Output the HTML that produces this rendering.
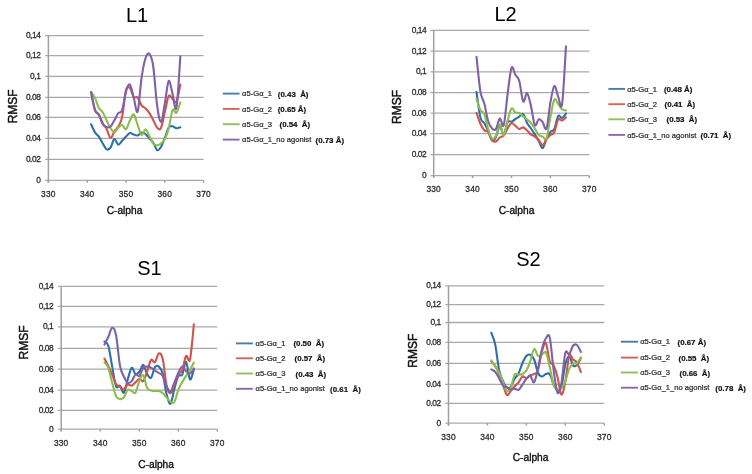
<!DOCTYPE html>
<html><head><meta charset="utf-8"><title>RMSF</title>
<style>
html,body{margin:0;padding:0;background:#fff;}
body{width:752px;height:474px;overflow:hidden;}
svg{display:block;filter:blur(0.3px);}
text{font-family:"Liberation Sans",sans-serif;}
.gl{stroke:#a9a9a9;stroke-width:1.3;}
.ax{stroke:#a0a0a0;stroke-width:1.5;}
.yl{font-size:8.4px;fill:#2b2b2b;text-anchor:end;letter-spacing:-0.45px;stroke:#2b2b2b;stroke-width:0.28px;}
.xl{font-size:8.4px;fill:#2b2b2b;text-anchor:middle;letter-spacing:0.2px;stroke:#2b2b2b;stroke-width:0.28px;}
.tt{font-size:20px;fill:#000;text-anchor:middle;}
.rm{font-size:12px;fill:#111;text-anchor:middle;stroke:#111;stroke-width:0.45px;}
.ca{font-size:10.2px;fill:#111;text-anchor:middle;stroke:#111;stroke-width:0.35px;}
.sr{fill:none;stroke-width:2.1;stroke-linejoin:round;stroke-linecap:round;}
.lg{stroke-width:1.9;}
.lt{font-size:7.6px;fill:#2b2b2b;stroke:#2b2b2b;stroke-width:0.22px;}
.lv{font-size:7.9px;font-weight:bold;fill:#111;stroke:#111;stroke-width:0.2px;}
</style></head>
<body>
<svg width="752" height="474" viewBox="0 0 752 474">
<rect width="752" height="474" fill="#fff"/>
<line x1="45.2" y1="180.40" x2="203.6" y2="180.40" class="gl"/>
<line x1="45.2" y1="159.40" x2="203.6" y2="159.40" class="gl"/>
<line x1="45.2" y1="138.40" x2="203.6" y2="138.40" class="gl"/>
<line x1="45.2" y1="117.30" x2="203.6" y2="117.30" class="gl"/>
<line x1="45.2" y1="97.30" x2="203.6" y2="97.30" class="gl"/>
<line x1="45.2" y1="76.30" x2="203.6" y2="76.30" class="gl"/>
<line x1="45.2" y1="55.60" x2="203.6" y2="55.60" class="gl"/>
<line x1="45.2" y1="35.70" x2="203.6" y2="35.70" class="gl"/>
<line x1="48.40" y1="35.70" x2="48.40" y2="182.80" class="ax"/>
<line x1="48.40" y1="180.40" x2="48.40" y2="182.80" class="ax"/>
<line x1="87.20" y1="180.40" x2="87.20" y2="182.80" class="ax"/>
<line x1="126.00" y1="180.40" x2="126.00" y2="182.80" class="ax"/>
<line x1="164.80" y1="180.40" x2="164.80" y2="182.80" class="ax"/>
<line x1="203.60" y1="180.40" x2="203.60" y2="182.80" class="ax"/>
<text x="40.4" y="182.80" class="yl">0</text>
<text x="40.4" y="161.80" class="yl">0.02</text>
<text x="40.4" y="140.80" class="yl">0.04</text>
<text x="40.4" y="119.70" class="yl">0.06</text>
<text x="40.4" y="99.70" class="yl">0.08</text>
<text x="40.4" y="78.70" class="yl">0,1</text>
<text x="40.4" y="58.00" class="yl">0,12</text>
<text x="40.4" y="38.10" class="yl">0,14</text>
<text x="48.40" y="196.60" class="xl">330</text>
<text x="87.20" y="196.60" class="xl">340</text>
<text x="126.00" y="196.60" class="xl">350</text>
<text x="164.80" y="196.60" class="xl">360</text>
<text x="203.60" y="196.60" class="xl">370</text>
<text x="137.1" y="21.8" class="tt">L1</text>
<text transform="translate(16.6 106.3) rotate(-90)" class="rm">RMSF</text>
<text x="124.5" y="213.9" class="ca">C-alpha</text>
<path d="M91.10 124.30 C91.75 125.65 93.69 130.35 94.98 132.40 C96.27 134.45 97.57 134.75 98.86 136.60 C100.15 138.45 101.45 141.38 102.74 143.50 C104.03 145.62 105.33 148.60 106.62 149.30 C107.91 150.00 109.21 149.42 110.50 147.70 C111.79 145.98 113.09 139.50 114.38 139.00 C115.67 138.50 116.97 144.40 118.26 144.70 C119.55 145.00 120.85 142.15 122.14 140.80 C123.43 139.45 124.73 137.90 126.02 136.60 C127.31 135.30 128.61 133.35 129.90 133.00 C131.19 132.65 132.49 134.10 133.78 134.50 C135.07 134.90 136.37 135.72 137.66 135.40 C138.95 135.08 140.25 132.83 141.54 132.60 C142.83 132.37 144.13 133.02 145.42 134.00 C146.71 134.98 148.01 137.08 149.30 138.50 C150.59 139.92 151.89 140.57 153.18 142.50 C154.47 144.43 155.77 149.35 157.06 150.10 C158.35 150.85 159.65 149.02 160.94 147.00 C162.23 144.98 163.53 141.25 164.82 138.00 C166.11 134.75 167.41 129.45 168.70 127.50 C169.99 125.55 171.29 126.17 172.58 126.30 C173.87 126.43 175.17 128.13 176.46 128.30 C177.75 128.47 179.69 127.47 180.34 127.30" stroke="#2c70a8" class="sr"/>
<path d="M91.10 92.10 C91.75 95.18 93.69 106.82 94.98 110.60 C96.27 114.38 97.57 112.70 98.86 114.80 C100.15 116.90 101.45 120.83 102.74 123.20 C104.03 125.57 105.33 126.53 106.62 129.00 C107.91 131.47 109.21 137.60 110.50 138.00 C111.79 138.40 113.09 133.30 114.38 131.40 C115.67 129.50 116.97 129.00 118.26 126.60 C119.55 124.20 120.85 123.10 122.14 117.00 C123.43 110.90 124.73 94.83 126.02 90.00 C127.31 85.17 128.61 86.83 129.90 88.00 C131.19 89.17 132.49 95.42 133.78 97.00 C135.07 98.58 136.37 96.12 137.66 97.50 C138.95 98.88 140.25 103.52 141.54 105.30 C142.83 107.08 144.13 106.95 145.42 108.20 C146.71 109.45 148.01 110.83 149.30 112.80 C150.59 114.77 151.89 117.55 153.18 120.00 C154.47 122.45 155.77 126.17 157.06 127.50 C158.35 128.83 159.65 130.58 160.94 128.00 C162.23 125.42 163.53 117.33 164.82 112.00 C166.11 106.67 167.41 98.18 168.70 96.00 C169.99 93.82 171.29 97.93 172.58 98.90 C173.87 99.87 175.17 104.18 176.46 101.80 C177.75 99.42 179.69 87.47 180.34 84.60" stroke="#d0534c" class="sr"/>
<path d="M91.10 92.10 C91.75 93.07 93.69 95.25 94.98 97.90 C96.27 100.55 97.57 105.62 98.86 108.00 C100.15 110.38 101.45 110.12 102.74 112.20 C104.03 114.28 105.33 117.87 106.62 120.50 C107.91 123.13 109.21 126.02 110.50 128.00 C111.79 129.98 113.09 132.45 114.38 132.40 C115.67 132.35 116.97 128.93 118.26 127.70 C119.55 126.47 120.85 124.75 122.14 125.00 C123.43 125.25 124.73 129.95 126.02 129.20 C127.31 128.45 128.61 122.95 129.90 120.50 C131.19 118.05 132.49 113.75 133.78 114.50 C135.07 115.25 136.37 121.58 137.66 125.00 C138.95 128.42 140.25 134.30 141.54 135.00 C142.83 135.70 144.13 129.03 145.42 129.20 C146.71 129.37 148.01 133.62 149.30 136.00 C150.59 138.38 151.89 141.93 153.18 143.50 C154.47 145.07 155.77 145.40 157.06 145.40 C158.35 145.40 159.65 144.53 160.94 143.50 C162.23 142.47 163.53 141.70 164.82 139.20 C166.11 136.70 167.41 133.37 168.70 128.50 C169.99 123.63 171.29 112.62 172.58 110.00 C173.87 107.38 175.17 114.07 176.46 112.80 C177.75 111.53 179.69 104.13 180.34 102.40" stroke="#8cbd4e" class="sr"/>
<path d="M91.10 92.10 C91.75 95.00 93.69 105.72 94.98 109.50 C96.27 113.28 97.57 112.35 98.86 114.80 C100.15 117.25 101.45 122.15 102.74 124.20 C104.03 126.25 105.33 126.72 106.62 127.10 C107.91 127.48 109.21 127.65 110.50 126.50 C111.79 125.35 113.09 122.42 114.38 120.20 C115.67 117.98 116.97 114.88 118.26 113.20 C119.55 111.52 120.85 113.70 122.14 110.10 C123.43 106.50 124.73 95.87 126.02 91.60 C127.31 87.33 128.61 83.43 129.90 84.50 C131.19 85.57 132.49 93.50 133.78 98.00 C135.07 102.50 136.37 114.83 137.66 111.50 C138.95 108.17 140.25 86.83 141.54 78.00 C142.83 69.17 144.13 62.53 145.42 58.50 C146.71 54.47 148.01 52.55 149.30 53.80 C150.59 55.05 151.89 57.47 153.18 66.00 C154.47 74.53 155.77 95.67 157.06 105.00 C158.35 114.33 159.65 122.23 160.94 122.00 C162.23 121.77 163.53 110.43 164.82 103.60 C166.11 96.77 167.41 82.60 168.70 81.00 C169.99 79.40 171.29 89.55 172.58 94.00 C173.87 98.45 175.17 113.98 176.46 107.70 C177.75 101.42 179.69 64.87 180.34 56.30" stroke="#7f61a6" class="sr"/>
<line x1="222.8" y1="93.6" x2="239.6" y2="93.6" stroke="#4a7cab" class="lg"/>
<text x="242.1" y="96.2" class="lt">α5-Gα_1</text>
<text x="277.8" y="96.6" class="lv">(0.43&#160;&#160;Å)</text>
<line x1="222.8" y1="108.9" x2="239.6" y2="108.9" stroke="#d2625d" class="lg"/>
<text x="242.1" y="111.5" class="lt">α5-Gα_2</text>
<text x="277.7" y="111.9" class="lv">(0.65 Å)</text>
<line x1="222.8" y1="124.2" x2="239.6" y2="124.2" stroke="#95bf5d" class="lg"/>
<text x="242.1" y="126.8" class="lt">α5-Gα_3</text>
<text x="279.5" y="127.2" class="lv">(0.54&#160;&#160;Å)</text>
<line x1="222.8" y1="139.6" x2="239.6" y2="139.6" stroke="#8769ad" class="lg"/>
<text x="242.1" y="142.2" class="lt">α5-Gα_1_no agonist</text>
<text x="315.5" y="142.6" class="lv">(0.73 Å)</text>
<line x1="430.5" y1="175.60" x2="589.3" y2="175.60" class="gl"/>
<line x1="430.5" y1="154.70" x2="589.3" y2="154.70" class="gl"/>
<line x1="430.5" y1="133.70" x2="589.3" y2="133.70" class="gl"/>
<line x1="430.5" y1="113.10" x2="589.3" y2="113.10" class="gl"/>
<line x1="430.5" y1="92.60" x2="589.3" y2="92.60" class="gl"/>
<line x1="430.5" y1="71.80" x2="589.3" y2="71.80" class="gl"/>
<line x1="430.5" y1="51.10" x2="589.3" y2="51.10" class="gl"/>
<line x1="430.5" y1="30.30" x2="589.3" y2="30.30" class="gl"/>
<line x1="433.70" y1="30.30" x2="433.70" y2="178.00" class="ax"/>
<line x1="433.70" y1="175.60" x2="433.70" y2="178.00" class="ax"/>
<line x1="472.60" y1="175.60" x2="472.60" y2="178.00" class="ax"/>
<line x1="511.50" y1="175.60" x2="511.50" y2="178.00" class="ax"/>
<line x1="550.40" y1="175.60" x2="550.40" y2="178.00" class="ax"/>
<line x1="589.30" y1="175.60" x2="589.30" y2="178.00" class="ax"/>
<text x="426.2" y="178.00" class="yl">0</text>
<text x="426.2" y="157.10" class="yl">0.02</text>
<text x="426.2" y="136.10" class="yl">0.04</text>
<text x="426.2" y="115.50" class="yl">0.06</text>
<text x="426.2" y="95.00" class="yl">0.08</text>
<text x="426.2" y="74.20" class="yl">0,1</text>
<text x="426.2" y="53.50" class="yl">0,12</text>
<text x="426.2" y="32.70" class="yl">0,14</text>
<text x="433.70" y="192.00" class="xl">330</text>
<text x="472.60" y="192.00" class="xl">340</text>
<text x="511.50" y="192.00" class="xl">350</text>
<text x="550.40" y="192.00" class="xl">360</text>
<text x="589.30" y="192.00" class="xl">370</text>
<text x="505.5" y="21.1" class="tt">L2</text>
<text transform="translate(400.6 107.0) rotate(-90)" class="rm">RMSF</text>
<text x="516.5" y="213.5" class="ca">C-alpha</text>
<path d="M476.50 92.00 C477.15 96.25 479.09 112.33 480.39 117.50 C481.69 122.67 482.98 120.75 484.28 123.00 C485.58 125.25 486.87 128.08 488.17 131.00 C489.47 133.92 490.76 139.50 492.06 140.50 C493.36 141.50 494.65 139.42 495.95 137.00 C497.25 134.58 498.54 126.33 499.84 126.00 C501.14 125.67 502.43 135.67 503.73 135.00 C505.03 134.33 506.32 124.22 507.62 122.00 C508.92 119.78 510.21 122.20 511.51 121.70 C512.81 121.20 514.10 119.85 515.40 119.00 C516.70 118.15 517.99 117.43 519.29 116.60 C520.59 115.77 521.88 112.93 523.18 114.00 C524.48 115.07 525.77 120.58 527.07 123.00 C528.37 125.42 529.66 126.60 530.96 128.50 C532.26 130.40 533.55 132.32 534.85 134.40 C536.15 136.48 537.44 138.70 538.74 141.00 C540.04 143.30 541.33 148.58 542.63 148.20 C543.93 147.82 545.22 141.40 546.52 138.70 C547.82 136.00 549.11 133.62 550.41 132.00 C551.71 130.38 553.00 131.67 554.30 129.00 C555.60 126.33 556.89 117.83 558.19 116.00 C559.49 114.17 560.78 118.42 562.08 118.00 C563.38 117.58 565.32 114.25 565.97 113.50" stroke="#2c70a8" class="sr"/>
<path d="M476.50 113.00 C477.15 114.78 479.09 120.82 480.39 123.70 C481.69 126.58 482.98 128.92 484.28 130.30 C485.58 131.68 486.87 130.33 488.17 132.00 C489.47 133.67 490.76 138.72 492.06 140.30 C493.36 141.88 494.65 141.97 495.95 141.50 C497.25 141.03 498.54 138.50 499.84 137.50 C501.14 136.50 502.43 137.00 503.73 135.50 C505.03 134.00 506.32 130.58 507.62 128.50 C508.92 126.42 510.21 123.45 511.51 123.00 C512.81 122.55 514.10 124.80 515.40 125.80 C516.70 126.80 517.99 128.73 519.29 129.00 C520.59 129.27 521.88 127.15 523.18 127.40 C524.48 127.65 525.77 129.33 527.07 130.50 C528.37 131.67 529.66 133.37 530.96 134.40 C532.26 135.43 533.55 135.77 534.85 136.70 C536.15 137.63 537.44 138.55 538.74 140.00 C540.04 141.45 541.33 145.53 542.63 145.40 C543.93 145.27 545.22 140.93 546.52 139.20 C547.82 137.47 549.11 136.20 550.41 135.00 C551.71 133.80 553.00 134.58 554.30 132.00 C555.60 129.42 556.89 121.40 558.19 119.50 C559.49 117.60 560.78 120.95 562.08 120.60 C563.38 120.25 565.32 117.93 565.97 117.40" stroke="#d0534c" class="sr"/>
<path d="M476.50 98.90 C477.15 100.75 479.09 107.48 480.39 110.00 C481.69 112.52 482.98 110.83 484.28 114.00 C485.58 117.17 486.87 124.92 488.17 129.00 C489.47 133.08 490.76 137.43 492.06 138.50 C493.36 139.57 494.65 137.75 495.95 135.40 C497.25 133.05 498.54 124.38 499.84 124.40 C501.14 124.42 502.43 136.15 503.73 135.50 C505.03 134.85 506.32 125.00 507.62 120.50 C508.92 116.00 510.21 109.83 511.51 108.50 C512.81 107.17 514.10 111.75 515.40 112.50 C516.70 113.25 517.99 112.33 519.29 113.00 C520.59 113.67 521.88 115.42 523.18 116.50 C524.48 117.58 525.77 118.42 527.07 119.50 C528.37 120.58 529.66 121.48 530.96 123.00 C532.26 124.52 533.55 126.60 534.85 128.60 C536.15 130.60 537.44 133.68 538.74 135.00 C540.04 136.32 541.33 135.97 542.63 136.50 C543.93 137.03 545.22 141.45 546.52 138.20 C547.82 134.95 549.11 123.45 550.41 117.00 C551.71 110.55 553.00 101.65 554.30 99.50 C555.60 97.35 556.89 102.45 558.19 104.10 C559.49 105.75 560.78 108.33 562.08 109.40 C563.38 110.47 565.32 110.32 565.97 110.50" stroke="#8cbd4e" class="sr"/>
<path d="M476.50 56.80 C477.15 62.57 479.09 83.60 480.39 91.40 C481.69 99.20 482.98 98.67 484.28 103.60 C485.58 108.53 486.87 116.85 488.17 121.00 C489.47 125.15 490.76 127.17 492.06 128.50 C493.36 129.83 494.65 130.67 495.95 129.00 C497.25 127.33 498.54 119.12 499.84 118.50 C501.14 117.88 502.43 129.38 503.73 125.30 C505.03 121.22 506.32 103.58 507.62 94.00 C508.92 84.42 510.21 71.00 511.51 67.80 C512.81 64.60 514.10 72.60 515.40 74.80 C516.70 77.00 517.99 76.55 519.29 81.00 C520.59 85.45 521.88 99.48 523.18 101.50 C524.48 103.52 525.77 92.37 527.07 93.10 C528.37 93.83 529.66 100.55 530.96 105.90 C532.26 111.25 533.55 122.98 534.85 125.20 C536.15 127.42 537.44 119.72 538.74 119.20 C540.04 118.68 541.33 120.55 542.63 122.10 C543.93 123.65 545.22 131.78 546.52 128.50 C547.82 125.22 549.11 109.48 550.41 102.40 C551.71 95.32 553.00 86.97 554.30 86.00 C555.60 85.03 556.89 93.58 558.19 96.60 C559.49 99.62 560.78 112.47 562.08 104.10 C563.38 95.73 565.32 56.02 565.97 46.40" stroke="#7f61a6" class="sr"/>
<line x1="608.4" y1="88.9" x2="625.1" y2="88.9" stroke="#4a7cab" class="lg"/>
<text x="627.2" y="91.5" class="lt">α5-Gα_1</text>
<text x="663.9" y="91.9" class="lv">(0.48 Å)</text>
<line x1="608.4" y1="104.2" x2="625.1" y2="104.2" stroke="#d2625d" class="lg"/>
<text x="627.2" y="106.8" class="lt">α5-Gα_2</text>
<text x="664.5" y="107.2" class="lv">(0.41&#160;&#160;Å)</text>
<line x1="608.4" y1="119.3" x2="625.1" y2="119.3" stroke="#95bf5d" class="lg"/>
<text x="627.2" y="121.9" class="lt">α5-Gα_3</text>
<text x="666.5" y="122.3" class="lv">(0.53&#160;&#160;Å)</text>
<line x1="608.4" y1="134.9" x2="625.1" y2="134.9" stroke="#8769ad" class="lg"/>
<text x="627.2" y="137.5" class="lt">α5-Gα_1_no agonist</text>
<text x="700.5" y="137.9" class="lv">(0.71&#160;&#160;Å)</text>
<line x1="58.0" y1="429.20" x2="217.3" y2="429.20" class="gl"/>
<line x1="58.0" y1="410.40" x2="217.3" y2="410.40" class="gl"/>
<line x1="58.0" y1="390.20" x2="217.3" y2="390.20" class="gl"/>
<line x1="58.0" y1="369.20" x2="217.3" y2="369.20" class="gl"/>
<line x1="58.0" y1="348.30" x2="217.3" y2="348.30" class="gl"/>
<line x1="58.0" y1="326.80" x2="217.3" y2="326.80" class="gl"/>
<line x1="58.0" y1="306.30" x2="217.3" y2="306.30" class="gl"/>
<line x1="58.0" y1="286.40" x2="217.3" y2="286.40" class="gl"/>
<line x1="61.20" y1="286.40" x2="61.20" y2="431.60" class="ax"/>
<line x1="61.20" y1="429.20" x2="61.20" y2="431.60" class="ax"/>
<line x1="100.23" y1="429.20" x2="100.23" y2="431.60" class="ax"/>
<line x1="139.25" y1="429.20" x2="139.25" y2="431.60" class="ax"/>
<line x1="178.28" y1="429.20" x2="178.28" y2="431.60" class="ax"/>
<line x1="217.30" y1="429.20" x2="217.30" y2="431.60" class="ax"/>
<text x="53.2" y="431.60" class="yl">0</text>
<text x="53.2" y="412.80" class="yl">0.02</text>
<text x="53.2" y="392.60" class="yl">0.04</text>
<text x="53.2" y="371.60" class="yl">0.06</text>
<text x="53.2" y="350.70" class="yl">0.08</text>
<text x="53.2" y="329.20" class="yl">0,1</text>
<text x="53.2" y="308.70" class="yl">0,12</text>
<text x="53.2" y="288.80" class="yl">0,14</text>
<text x="61.20" y="446.00" class="xl">330</text>
<text x="100.23" y="446.00" class="xl">340</text>
<text x="139.25" y="446.00" class="xl">350</text>
<text x="178.28" y="446.00" class="xl">360</text>
<text x="217.30" y="446.00" class="xl">370</text>
<text x="149.4" y="274.5" class="tt">S1</text>
<text transform="translate(28.4 342.5) rotate(-90)" class="rm">RMSF</text>
<text x="156.1" y="467.8" class="ca">C-alpha</text>
<path d="M104.40 341.50 C105.05 342.20 106.99 341.52 108.29 345.70 C109.59 349.88 110.88 359.83 112.18 366.60 C113.48 373.37 114.77 383.12 116.07 386.30 C117.37 389.48 118.66 384.63 119.96 385.70 C121.26 386.77 122.55 393.75 123.85 392.70 C125.15 391.65 126.44 383.55 127.74 379.40 C129.04 375.25 130.33 368.68 131.63 367.80 C132.93 366.92 134.22 373.43 135.52 374.10 C136.82 374.77 138.11 373.33 139.41 371.80 C140.71 370.27 142.00 364.52 143.30 364.90 C144.60 365.28 145.89 371.98 147.19 374.10 C148.49 376.22 149.78 378.75 151.08 377.60 C152.38 376.45 153.67 369.03 154.97 367.20 C156.27 365.37 157.56 365.53 158.86 366.60 C160.16 367.67 161.45 368.95 162.75 373.60 C164.05 378.25 165.34 389.48 166.64 394.50 C167.94 399.52 169.23 404.68 170.53 403.70 C171.83 402.72 173.12 393.23 174.42 388.60 C175.72 383.97 177.01 378.22 178.31 375.90 C179.61 373.58 180.90 377.02 182.20 374.70 C183.50 372.38 184.79 361.22 186.09 362.00 C187.39 362.78 188.68 378.15 189.98 379.40 C191.28 380.65 193.22 371.15 193.87 369.50" stroke="#2c70a8" class="sr"/>
<path d="M104.40 358.50 C105.05 359.75 106.99 363.30 108.29 366.00 C109.59 368.70 110.88 371.70 112.18 374.70 C113.48 377.70 114.77 381.97 116.07 384.00 C117.37 386.03 118.66 386.03 119.96 386.90 C121.26 387.77 122.55 389.58 123.85 389.20 C125.15 388.82 126.44 385.18 127.74 384.60 C129.04 384.02 130.33 386.08 131.63 385.70 C132.93 385.32 134.22 383.45 135.52 382.30 C136.82 381.15 138.11 379.00 139.41 378.80 C140.71 378.60 142.00 382.37 143.30 381.10 C144.60 379.83 145.89 374.72 147.19 371.20 C148.49 367.68 149.78 361.50 151.08 360.00 C152.38 358.50 153.67 363.28 154.97 362.20 C156.27 361.12 157.56 354.03 158.86 353.50 C160.16 352.97 161.45 353.53 162.75 359.00 C164.05 364.47 165.34 380.58 166.64 386.30 C167.94 392.02 169.23 393.48 170.53 393.30 C171.83 393.12 173.12 388.30 174.42 385.20 C175.72 382.10 177.01 377.22 178.31 374.70 C179.61 372.18 180.90 373.22 182.20 370.10 C183.50 366.98 184.79 357.75 186.09 356.00 C187.39 354.25 188.68 364.88 189.98 359.60 C191.28 354.32 193.22 330.18 193.87 324.30" stroke="#d0534c" class="sr"/>
<path d="M104.40 362.30 C105.05 363.22 106.99 364.38 108.29 367.80 C109.59 371.22 110.88 378.07 112.18 382.80 C113.48 387.53 114.77 393.48 116.07 396.20 C117.37 398.92 118.66 398.90 119.96 399.10 C121.26 399.30 122.55 398.95 123.85 397.40 C125.15 395.85 126.44 390.87 127.74 389.80 C129.04 388.73 130.33 390.52 131.63 391.00 C132.93 391.48 134.22 394.45 135.52 392.70 C136.82 390.95 138.11 383.40 139.41 380.50 C140.71 377.60 142.00 374.03 143.30 375.30 C144.60 376.57 145.89 385.58 147.19 388.10 C148.49 390.62 149.78 389.92 151.08 390.40 C152.38 390.88 153.67 390.90 154.97 391.00 C156.27 391.10 157.56 390.65 158.86 391.00 C160.16 391.35 161.45 392.03 162.75 393.10 C164.05 394.17 165.34 395.98 166.64 397.40 C167.94 398.82 169.23 400.83 170.53 401.60 C171.83 402.37 173.12 403.97 174.42 402.00 C175.72 400.03 177.01 393.08 178.31 389.80 C179.61 386.52 180.90 384.62 182.20 382.30 C183.50 379.98 184.79 377.93 186.09 375.90 C187.39 373.87 188.68 372.33 189.98 370.10 C191.28 367.87 193.22 363.77 193.87 362.50" stroke="#8cbd4e" class="sr"/>
<path d="M104.40 344.60 C105.05 343.33 106.99 339.80 108.29 337.00 C109.59 334.20 110.88 328.08 112.18 327.80 C113.48 327.52 114.77 328.98 116.07 335.30 C117.37 341.62 118.66 358.83 119.96 365.70 C121.26 372.57 122.55 373.65 123.85 376.50 C125.15 379.35 126.44 382.03 127.74 382.80 C129.04 383.57 130.33 382.48 131.63 381.10 C132.93 379.72 134.22 375.37 135.52 374.50 C136.82 373.63 138.11 377.02 139.41 375.90 C140.71 374.78 142.00 369.35 143.30 367.80 C144.60 366.25 145.89 366.60 147.19 366.60 C148.49 366.60 149.78 367.12 151.08 367.80 C152.38 368.48 153.67 369.83 154.97 370.70 C156.27 371.57 157.56 372.13 158.86 373.00 C160.16 373.87 161.45 373.68 162.75 375.90 C164.05 378.12 165.34 383.68 166.64 386.30 C167.94 388.92 169.23 392.27 170.53 391.60 C171.83 390.93 173.12 385.40 174.42 382.30 C175.72 379.20 177.01 375.62 178.31 373.00 C179.61 370.38 180.90 366.90 182.20 366.60 C183.50 366.30 184.79 370.03 186.09 371.20 C187.39 372.37 188.68 374.08 189.98 373.60 C191.28 373.12 193.22 369.18 193.87 368.30" stroke="#7f61a6" class="sr"/>
<line x1="236.0" y1="343.4" x2="252.9" y2="343.4" stroke="#4a7cab" class="lg"/>
<text x="255.5" y="346.0" class="lt">α5-Gα_1</text>
<text x="293.4" y="346.4" class="lv">(0.50&#160;&#160;Å)</text>
<line x1="236.0" y1="358.3" x2="252.9" y2="358.3" stroke="#d2625d" class="lg"/>
<text x="255.5" y="360.9" class="lt">α5-Gα_2</text>
<text x="294.5" y="361.3" class="lv">(0.57&#160;&#160;Å)</text>
<line x1="236.0" y1="373.5" x2="252.9" y2="373.5" stroke="#95bf5d" class="lg"/>
<text x="255.5" y="376.1" class="lt">α5-Gα_3</text>
<text x="295.5" y="376.5" class="lv">(0.43&#160;&#160;Å)</text>
<line x1="236.0" y1="388.8" x2="252.9" y2="388.8" stroke="#8769ad" class="lg"/>
<text x="255.5" y="391.4" class="lt">α5-Gα_1_no agonist</text>
<text x="330.1" y="391.8" class="lv">(0.61&#160;&#160;Å)</text>
<line x1="445.3" y1="423.20" x2="604.3" y2="423.20" class="gl"/>
<line x1="445.3" y1="403.30" x2="604.3" y2="403.30" class="gl"/>
<line x1="445.3" y1="384.40" x2="604.3" y2="384.40" class="gl"/>
<line x1="445.3" y1="363.40" x2="604.3" y2="363.40" class="gl"/>
<line x1="445.3" y1="342.30" x2="604.3" y2="342.30" class="gl"/>
<line x1="445.3" y1="322.50" x2="604.3" y2="322.50" class="gl"/>
<line x1="445.3" y1="304.70" x2="604.3" y2="304.70" class="gl"/>
<line x1="445.3" y1="285.90" x2="604.3" y2="285.90" class="gl"/>
<line x1="448.50" y1="285.90" x2="448.50" y2="425.60" class="ax"/>
<line x1="448.50" y1="423.20" x2="448.50" y2="425.60" class="ax"/>
<line x1="487.45" y1="423.20" x2="487.45" y2="425.60" class="ax"/>
<line x1="526.40" y1="423.20" x2="526.40" y2="425.60" class="ax"/>
<line x1="565.35" y1="423.20" x2="565.35" y2="425.60" class="ax"/>
<line x1="604.30" y1="423.20" x2="604.30" y2="425.60" class="ax"/>
<text x="440.8" y="425.60" class="yl">0</text>
<text x="440.8" y="405.70" class="yl">0.02</text>
<text x="440.8" y="386.80" class="yl">0.04</text>
<text x="440.8" y="365.80" class="yl">0.06</text>
<text x="440.8" y="344.70" class="yl">0.08</text>
<text x="440.8" y="324.90" class="yl">0,1</text>
<text x="440.8" y="307.10" class="yl">0,12</text>
<text x="440.8" y="288.30" class="yl">0,14</text>
<text x="448.50" y="440.00" class="xl">330</text>
<text x="487.45" y="440.00" class="xl">340</text>
<text x="526.40" y="440.00" class="xl">350</text>
<text x="565.35" y="440.00" class="xl">360</text>
<text x="604.30" y="440.00" class="xl">370</text>
<text x="528.5" y="266.2" class="tt">S2</text>
<text transform="translate(416.6 350.7) rotate(-90)" class="rm">RMSF</text>
<text x="530.6" y="461.0" class="ca">C-alpha</text>
<path d="M491.30 332.80 C491.95 334.73 493.90 338.20 495.19 344.40 C496.49 350.60 497.79 363.88 499.09 370.00 C500.39 376.12 501.69 378.18 502.99 381.10 C504.28 384.02 505.58 386.53 506.88 387.50 C508.18 388.47 509.48 388.35 510.78 386.90 C512.07 385.45 513.37 381.03 514.67 378.80 C515.97 376.57 517.27 376.13 518.57 373.50 C519.86 370.87 521.16 365.92 522.46 363.00 C523.76 360.08 525.06 357.37 526.36 356.00 C527.65 354.63 528.95 354.22 530.25 354.80 C531.55 355.38 532.85 356.47 534.14 359.50 C535.44 362.53 536.74 370.17 538.04 373.00 C539.34 375.83 540.64 376.32 541.94 376.50 C543.23 376.68 544.53 374.50 545.83 374.10 C547.13 373.70 548.43 372.35 549.73 374.10 C551.02 375.85 552.32 381.83 553.62 384.60 C554.92 387.37 556.22 390.32 557.51 390.70 C558.81 391.08 560.11 391.30 561.41 386.90 C562.71 382.50 564.01 369.42 565.31 364.30 C566.60 359.18 567.90 356.00 569.20 356.20 C570.50 356.40 571.80 364.03 573.10 365.50 C574.39 366.97 575.69 366.25 576.99 365.00 C578.29 363.75 580.24 359.17 580.88 358.00" stroke="#2c70a8" class="sr"/>
<path d="M491.30 361.50 C491.95 362.25 493.90 363.98 495.19 366.00 C496.49 368.02 497.79 370.50 499.09 373.60 C500.39 376.70 501.69 381.03 502.99 384.60 C504.28 388.17 505.58 393.93 506.88 395.00 C508.18 396.07 509.48 392.45 510.78 391.00 C512.07 389.55 513.37 387.75 514.67 386.30 C515.97 384.85 517.27 383.93 518.57 382.30 C519.86 380.67 521.16 377.18 522.46 376.50 C523.76 375.82 525.06 378.40 526.36 378.20 C527.65 378.00 528.95 375.98 530.25 375.30 C531.55 374.62 532.85 374.98 534.14 374.10 C535.44 373.22 536.74 373.80 538.04 370.00 C539.34 366.20 540.64 355.77 541.94 351.30 C543.23 346.83 544.53 341.55 545.83 343.20 C547.13 344.85 548.43 357.48 549.73 361.20 C551.02 364.92 552.32 362.87 553.62 365.50 C554.92 368.13 556.22 372.17 557.51 377.00 C558.81 381.83 560.11 393.72 561.41 394.50 C562.71 395.28 564.01 388.12 565.31 381.70 C566.60 375.28 567.90 359.68 569.20 356.00 C570.50 352.32 571.80 358.52 573.10 359.60 C574.39 360.68 575.69 360.43 576.99 362.50 C578.29 364.57 580.24 370.42 580.88 372.00" stroke="#d0534c" class="sr"/>
<path d="M491.30 360.30 C491.95 361.33 493.90 364.48 495.19 366.50 C496.49 368.52 497.79 369.77 499.09 372.40 C500.39 375.03 501.69 379.20 502.99 382.30 C504.28 385.40 505.58 390.13 506.88 391.00 C508.18 391.87 509.48 390.22 510.78 387.50 C512.07 384.78 513.37 376.83 514.67 374.70 C515.97 372.57 517.27 374.82 518.57 374.70 C519.86 374.58 521.16 374.70 522.46 374.00 C523.76 373.30 525.06 372.62 526.36 370.50 C527.65 368.38 528.95 364.88 530.25 361.30 C531.55 357.72 532.85 349.88 534.14 349.00 C535.44 348.12 536.74 355.03 538.04 356.00 C539.34 356.97 540.64 355.38 541.94 354.80 C543.23 354.22 544.53 350.55 545.83 352.50 C547.13 354.45 548.43 361.05 549.73 366.50 C551.02 371.95 552.32 381.42 553.62 385.20 C554.92 388.98 556.22 388.72 557.51 389.20 C558.81 389.68 560.11 389.45 561.41 388.10 C562.71 386.75 564.01 384.30 565.31 381.10 C566.60 377.90 567.90 371.82 569.20 368.90 C570.50 365.98 571.80 364.53 573.10 363.60 C574.39 362.67 575.69 364.33 576.99 363.30 C578.29 362.27 580.24 358.38 580.88 357.40" stroke="#8cbd4e" class="sr"/>
<path d="M491.30 369.40 C491.95 369.80 493.90 370.33 495.19 371.80 C496.49 373.27 497.79 375.88 499.09 378.20 C500.39 380.52 501.69 384.15 502.99 385.70 C504.28 387.25 505.58 386.85 506.88 387.50 C508.18 388.15 509.48 389.42 510.78 389.60 C512.07 389.78 513.37 388.57 514.67 388.60 C515.97 388.63 517.27 390.47 518.57 389.80 C519.86 389.13 521.16 386.43 522.46 384.60 C523.76 382.77 525.06 380.28 526.36 378.80 C527.65 377.32 528.95 375.12 530.25 375.70 C531.55 376.28 532.85 383.53 534.14 382.30 C535.44 381.07 536.74 373.85 538.04 368.30 C539.34 362.75 540.64 353.97 541.94 349.00 C543.23 344.03 544.53 340.42 545.83 338.50 C547.13 336.58 548.43 332.25 549.73 337.50 C551.02 342.75 552.32 360.80 553.62 370.00 C554.92 379.20 556.22 390.47 557.51 392.70 C558.81 394.93 560.11 390.02 561.41 383.40 C562.71 376.78 564.01 357.87 565.31 353.00 C566.60 348.13 567.90 355.45 569.20 354.20 C570.50 352.95 571.80 347.03 573.10 345.50 C574.39 343.97 575.69 343.93 576.99 345.00 C578.29 346.07 580.24 350.75 580.88 351.90" stroke="#7f61a6" class="sr"/>
<line x1="620.9" y1="341.7" x2="638.1" y2="341.7" stroke="#4a7cab" class="lg"/>
<text x="640.2" y="344.3" class="lt">α5-Gα_1</text>
<text x="677.5" y="344.7" class="lv">(0.67 Å)</text>
<line x1="620.9" y1="357.6" x2="638.1" y2="357.6" stroke="#d2625d" class="lg"/>
<text x="640.2" y="360.2" class="lt">α5-Gα_2</text>
<text x="678.5" y="360.6" class="lv">(0.55&#160;&#160;Å)</text>
<line x1="620.9" y1="372.5" x2="638.1" y2="372.5" stroke="#95bf5d" class="lg"/>
<text x="640.2" y="375.1" class="lt">α5-Gα_3</text>
<text x="679.5" y="375.5" class="lv">(0.66&#160;&#160;Å)</text>
<line x1="620.9" y1="387.7" x2="638.1" y2="387.7" stroke="#8769ad" class="lg"/>
<text x="640.2" y="390.3" class="lt">α5-Gα_1_no agonist</text>
<text x="715.3" y="390.7" class="lv">(0.78&#160;&#160;Å)</text>
</svg>
</body></html>
